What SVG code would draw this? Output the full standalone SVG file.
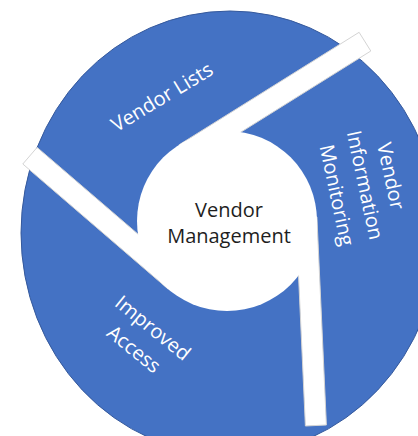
<svg xmlns="http://www.w3.org/2000/svg" width="418" height="436" viewBox="0 0 418 436">
  <style>
    .seg { fill: #4472c4; stroke: #35599c; stroke-width: 1; }
    .bar { fill: #ffffff; stroke: #d4d4d4; stroke-width: 1; }
    .hub { fill: #ffffff; }
    .lbl { font-family: "Open Sans", "Liberation Sans", sans-serif; font-size: 20px; fill: #ffffff; text-anchor: middle; }
    .hubtxt { font-family: "Open Sans", "Liberation Sans", sans-serif; font-size: 20px; fill: #1e1e1e; text-anchor: middle; }
  </style>
  <rect width="418" height="436" fill="#ffffff"/>
  <g id="wheel">
    <ellipse class="seg" cx="230" cy="233" rx="209" ry="222"/>
  </g>
  <g id="connectors">
    <polygon class="bar" points="179.3,144.7 191.0,163.3 370.8,51.0 359.1,32.3"/>
    <polygon class="bar" points="168.3,289.2 182.7,272.5 37.1,147.4 22.8,164.0"/>
    <polygon class="bar" points="316.9,216.9 295.9,217.9 305.4,426.0 326.4,425.0"/>
  </g>
  <g id="center-node">
    <circle class="hub" cx="227" cy="221" r="90"/>
    <text class="hubtxt" x="229" y="217">Vendor</text>
    <text class="hubtxt" x="229" y="243">Management</text>
  </g>
  <g id="vendor-lists">
    <text class="lbl" transform="translate(162,97) rotate(-31)" x="0" y="7">Vendor Lists</text>
  </g>
  <g id="vendor-information-monitoring">
    <text class="lbl" transform="translate(391,176) rotate(78)" x="0" y="7">Vendor</text>
    <text class="lbl" transform="translate(365,185) rotate(78)" x="0" y="7">Information</text>
    <text class="lbl" transform="translate(337,195) rotate(78)" x="0" y="7">Monitoring</text>
  </g>
  <g id="improved-access">
    <text class="lbl" transform="translate(153,328) rotate(39)" x="0" y="7">Improved</text>
    <text class="lbl" transform="translate(134,349) rotate(39)" x="0" y="7">Access</text>
  </g>
</svg>
